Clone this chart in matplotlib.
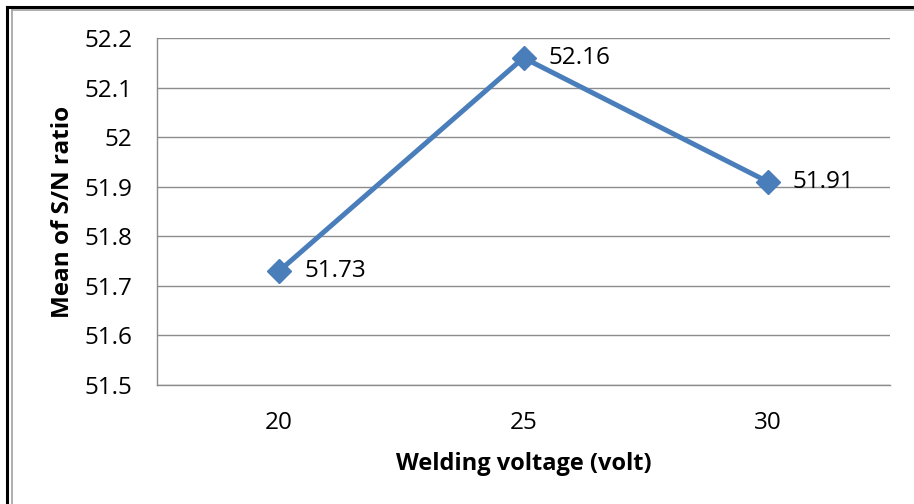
import matplotlib
matplotlib.use("Agg")
import matplotlib.pyplot as plt
from matplotlib.lines import Line2D

categories = ["20", "25", "30"]
sn_means = [51.73, 52.16, 51.91]
y_ticks = [51.5, 51.6, 51.7, 51.8, 51.9, 52.0, 52.1, 52.2]
y_tick_labels = ["51.5", "51.6", "51.7", "51.8", "51.9", "52", "52.1", "52.2"]

plt.rcParams['font.family'] = ['Open Sans', 'DejaVu Sans']

fig = plt.figure(figsize=(9.14, 5.04), dpi=100)
ax = fig.add_axes([157/914, 1-385/504, 733/914, 347/504])

x = list(range(len(categories)))
ax.plot(x, sn_means, color='#4A7EBB', linewidth=3.6, marker='D', markersize=12,
        markerfacecolor='#4A7EBB', markeredgecolor='#4A7EBB', zorder=3)
for xi, v in zip(x, sn_means):
    ax.annotate(f"{v:.2f}", (xi, v), xytext=(18, 0), textcoords='offset points',
                va='center', ha='left', fontsize=17.5, color='black')

ax.set_xlim(-0.5, 2.5)
ax.set_ylim(51.5, 52.2)
ax.set_yticks(y_ticks)
ax.set_yticklabels(y_tick_labels, fontsize=17.5)
ax.set_xticks(x)
ax.set_xticklabels(categories, fontsize=17.5)
ax.tick_params(axis='y', length=0, pad=17.5)
ax.tick_params(axis='x', length=0, pad=19)
ax.grid(axis='y', color='#8c8c8c', linewidth=1.0)
ax.set_axisbelow(True)
for s in ['top', 'right']:
    ax.spines[s].set_visible(False)
for s in ['left', 'bottom']:
    ax.spines[s].set_color('#8c8c8c')
    ax.spines[s].set_linewidth(1.0)

ax.set_xlabel("Welding voltage (volt)", fontsize=17, fontweight='bold', labelpad=12)
ax.set_ylabel("Mean of S/N ratio", fontsize=17.5, fontweight='bold', labelpad=7)

# outer frame lines
fig.add_artist(Line2D([6.5/914, 6.5/914], [0, 1-7/504], color='black', linewidth=2.2, transform=fig.transFigure))
fig.add_artist(Line2D([6.5/914, 1], [1-7/504, 1-7/504], color='black', linewidth=2.2, transform=fig.transFigure))
fig.add_artist(Line2D([11.5/914, 11.5/914], [0, 1-9.5/504], color='#a0a0a0', linewidth=1.2, transform=fig.transFigure))
fig.add_artist(Line2D([11.5/914, 1], [1-9.5/504, 1-9.5/504], color='#a0a0a0', linewidth=1.2, transform=fig.transFigure))

fig.savefig("out.png", dpi=100)
